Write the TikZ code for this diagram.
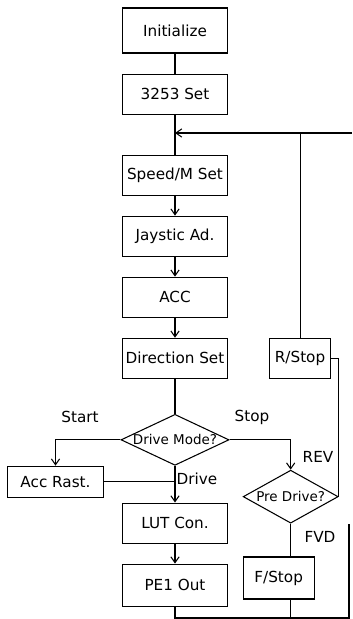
\documentclass[tikz,border=0pt]{standalone}
\usepackage{fontspec}
\setmainfont{DejaVu Sans}
\usetikzlibrary{positioning, arrows.meta, shapes.geometric}

\begin{document}
\begin{tikzpicture}[
  node distance=0.6cm,
  every node/.style={font=\fontsize{13}{15}\selectfont},
  box/.style={draw, line width=0.9pt, minimum width=3.15cm,
              minimum height=1.2cm, inner sep=2pt},
  ask/.style={draw, line width=0.9pt, diamond, aspect=2.1, inner sep=0pt,
              font=\fontsize{11.5}{13}\selectfont},
  ln/.style={line width=0.9pt},
  ar/.style={-{Straight Barb[length=5pt,width=7pt]}, line width=0.9pt},
]
  \useasboundingbox (0,0) rectangle (10.56,-18.57);

  % main column
  \node[box, minimum height=1.35cm] (init) at (5.25,-0.915) {Initialize};
  \node[box, below=of init] (set3253) {3253 Set};
  \node[box, below=1.2cm of set3253] (speed) {Speed/M Set};
  \node[box, below=of speed] (joy) {Jaystic Ad.};
  \node[box, below=of joy] (acc) {ACC};
  \node[box, below=of acc] (dir) {Direction Set};
  \node[ask, minimum width=3.24cm, minimum height=1.53cm,
        below=1.05cm of dir] (mode) {Drive Mode?};
  \node[box, below=1.1cm of mode] (lut) {LUT Con.};
  \node[box, minimum height=1.26cm, below=of lut] (pe1) {PE1 Out};

  % side branches
  \node[box, minimum width=1.83cm, right=1.23cm of dir] (rstop) {R/Stop};
  \node[box, minimum width=2.9cm, minimum height=0.93cm]
        (accr) at (1.665,-14.45) {Acc Rast.};
  \node[ask, minimum width=2.85cm, minimum height=1.59cm]
        (pre) at (8.72,-14.9) {Pre Drive?};
  \node[box, minimum width=2.13cm, minimum height=1.26cm]
        (fstop) at (8.36,-17.34) {F/Stop};

  % labels
  \node (lstart) at (2.4,-12.51) {Start};
  \node (lstop) at (7.56,-12.51) {Stop};
  \node (lrev) at (9.54,-13.71) {REV};
  \node (ldrive) at (5.91,-14.37) {Drive};
  \node (lfvd) at (9.6,-16.11) {FVD};

  % loop points
  \coordinate (loopin) at (10.56,-3.99);
  \coordinate (loopbot) at (10.47,-18.54);

  \draw[ln] (init) -- (set3253);
  \draw[ln] (set3253) -- (speed);
  \draw[ar] (speed) -- (joy);
  \draw[ar] (joy) -- (acc);
  \draw[ar] (acc) -- (dir);
  \draw[ln] (dir) -- (mode);
  \draw[ar] (mode) -- (lut);
  \draw[ar] (lut) -- (pe1);
  \draw[ar] (mode.west) -| (accr.north);
  \draw[ar] (mode.east) -| (pre.north);
  \draw[ln] (accr.east) -- (accr.east -| mode.south);
  \draw[ln] (pre.east) |- (rstop.east);
  \draw[ln] (pre.south) -- (pre.south |- fstop.north);
  \draw[ln] (pre.south |- fstop.south) -- (pre.south |- loopbot);
  \draw[ln] (rstop.north) -- (rstop.north |- loopin);
  \draw[ar] (loopin) -- (loopin -| set3253.south);
  \draw[ln] (pe1.south) |- (loopbot) -- (loopbot |- pre.south);
\end{tikzpicture}
\end{document}
